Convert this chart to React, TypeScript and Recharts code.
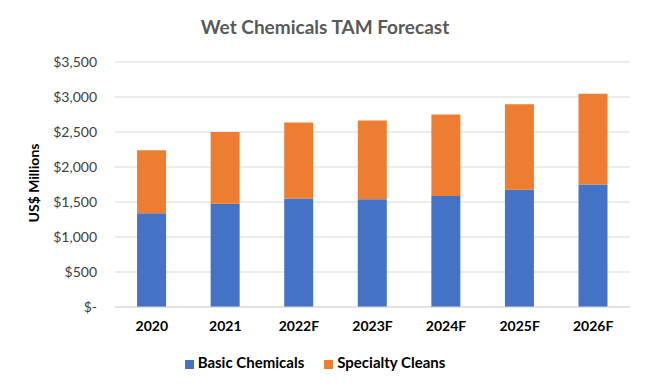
import { BarChart, Bar, XAxis, YAxis, CartesianGrid, Legend } from "recharts";

const years = ["2020", "2021", "2022F", "2023F", "2024F", "2025F", "2026F"];
const basicChemicals = [1340, 1475, 1550, 1540, 1585, 1675, 1750];
const specialtyCleans = [900, 1025, 1085, 1125, 1165, 1220, 1295];
const yTicks = [0, 500, 1000, 1500, 2000, 2500, 3000, 3500];

const data = years.map((year, i) => ({
  year,
  basic: basicChemicals[i],
  specialty: specialtyCleans[i],
}));

const font = "Lato, 'Open Sans', sans-serif";

const fmt = (v: number) => (v === 0 ? "$-" : "$" + v.toLocaleString("en-US"));

export default function App() {
  return (
    <div style={{ position: "absolute", left: 0, top: 0, width: 650, height: 390, background: "#fff", fontFamily: font }}>
      <div
        style={{
          position: "absolute",
          top: 15,
          left: 0,
          width: 650,
          textAlign: "center",
          fontSize: 19,
          fontWeight: 700,
          color: "#595959",
        }}
      >
        Wet Chemicals TAM Forecast
      </div>
      <div
        style={{
          position: "absolute",
          left: 33,
          top: 183,
          transform: "translate(-50%, -50%) rotate(-90deg)",
          fontSize: 14,
          fontWeight: 700,
          color: "#000",
          whiteSpace: "nowrap",
        }}
      >
        US$ Millions
      </div>
      <BarChart
        width={650}
        height={390}
        data={data}
        margin={{ top: 62, right: 20, left: 0, bottom: 53 }}
        barCategoryGap="30%"
      >
        <CartesianGrid vertical={false} stroke="#d9d9d9" strokeWidth={1} />
        <XAxis
          dataKey="year"
          axisLine={{ stroke: "#d9d9d9" }}
          tickLine={false}
          height={30}
          tickMargin={8}
          tick={{ fill: "#000", fontSize: 14, fontWeight: 700, fontFamily: font }}
        />
        <YAxis
          width={115}
          domain={[0, 3500]}
          ticks={yTicks}
          tickFormatter={fmt}
          axisLine={false}
          tickLine={false}
          tickMargin={12}
          tick={{ fill: "#404040", fontSize: 14, fontFamily: font }}
        />
        <Legend
          layout="horizontal"
          verticalAlign="middle"
          align="center"
          iconType="square"
          iconSize={9}
          wrapperStyle={{ top: 353, left: 0, width: 650, fontSize: 15, fontWeight: 700, fontFamily: font }}
          formatter={(value) => <span style={{ color: "#000", marginRight: 10 }}>{value}</span>}
        />
        <Bar dataKey="basic" name="Basic Chemicals" stackId="a" fill="#4472C4" isAnimationActive={false} />
        <Bar dataKey="specialty" name="Specialty Cleans" stackId="a" fill="#ED7D31" isAnimationActive={false} />
      </BarChart>
    </div>
  );
}
